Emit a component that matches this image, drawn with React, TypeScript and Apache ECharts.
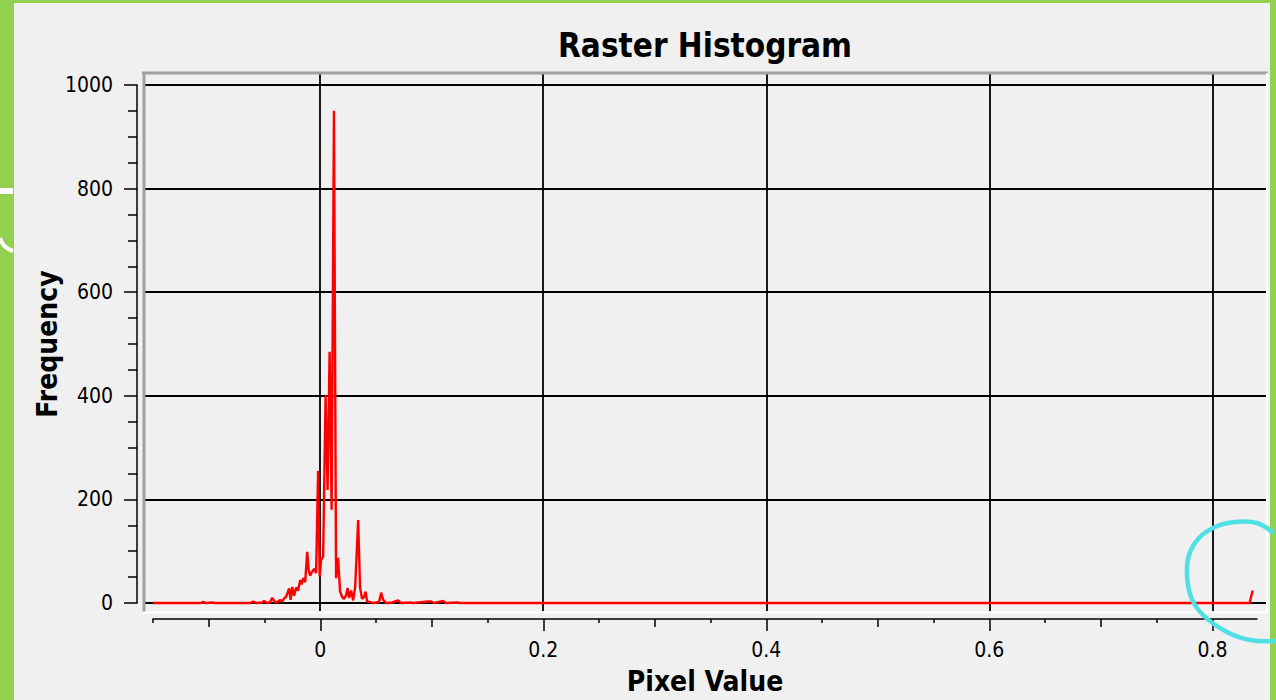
import React, { useEffect, useRef } from "react";
import * as echarts from "echarts";

// Histogram polyline: pixel value (bin position) and frequency
const pixelValues = [
  -0.150, -0.1075, -0.1048, -0.1022, -0.0968, -0.0941, -0.0627, -0.0600, -0.0573,
  -0.0520, -0.0502, -0.0475, -0.0448, -0.0430, -0.0403, -0.0376, -0.0358, -0.0341,
  -0.0323, -0.0305, -0.0278, -0.0264, -0.0251, -0.0233, -0.0215, -0.0197, -0.0179,
  -0.0166, -0.0152, -0.0134, -0.0116, -0.0103, -0.0090, -0.0072, -0.0054, -0.0036,
  -0.0018, -0.0004, 0.0009, 0.0027, 0.0049, 0.0067, 0.0085, 0.0103, 0.0124,
  0.0143, 0.0161, 0.0179, 0.0197, 0.0215, 0.0233, 0.0246, 0.0260, 0.0278,
  0.0296, 0.0314, 0.0341, 0.0358, 0.0376, 0.0394, 0.0408, 0.0421, 0.0448,
  0.0475, 0.0529, 0.0547, 0.0565, 0.0591, 0.0645, 0.0699, 0.0726, 0.0806,
  0.0833, 0.0968, 0.0995, 0.1022, 0.1102, 0.1129, 0.1228, 0.1254, 0.8333,
  0.8360,
];
const frequencies = [
  0, 0, 2, 0, 1, 0, 0, 3, 0,
  1, 4, 0, 2, 10, 1, 3, 6, 2,
  9, 12, 28, 6, 31, 14, 30, 24, 44,
  36, 48, 40, 99, 64, 53, 60, 66, 58,
  255, 51, 83, 90, 401, 218, 485, 180, 950,
  48, 87, 22, 12, 8, 15, 29, 10, 24,
  5, 30, 160, 30, 8, 12, 22, 3, 2,
  0, 2, 20, 6, 0, 1, 5, 0, 1,
  0, 3, 3, 0, 4, 0, 1, 0, 0,
  24,
];

// Axis ticks
const xMajorTicks = [0, 0.2, 0.4, 0.6, 0.8];
const xMidTicks = [-0.1, 0.1, 0.3, 0.5, 0.7];
const xMinorTicks = [-0.15, -0.05, 0.05, 0.15, 0.25, 0.35, 0.45, 0.55, 0.65, 0.75];
const yMajorTicks = [0, 200, 400, 600, 800, 1000];

const FONT = '"DejaVu Sans Condensed", "Liberation Sans", sans-serif';

export default function App() {
  const ref = useRef<HTMLDivElement>(null);

  useEffect(() => {
    if (!ref.current) return;
    const chart = echarts.init(ref.current, undefined, { renderer: "svg" });
    const data = pixelValues.map((x, i) => [x, frequencies[i]]);
    const black = { color: "#000", width: 1.5 };
    const grid = { color: "#000", width: 1.8 };
    const hidden = {
      type: "value",
      min: 0,
      max: 1,
      axisLine: { show: false },
      axisTick: { show: false },
      axisLabel: { show: false },
      splitLine: { show: false },
    };

    chart.setOption({
      animation: false,
      backgroundColor: "transparent",
      grid: [
        { left: 145, right: 10, top: 74, bottom: 89 },
        { left: 153, width: 1104, top: 618, height: 1 },
        { left: 137, width: 1, top: 85, height: 518 },
      ],
      xAxis: [
        {
          gridIndex: 0,
          type: "value",
          min: -0.157,
          max: 0.848,
          axisLine: { show: false },
          axisTick: { show: false, customValues: xMajorTicks },
          axisLabel: { show: false, customValues: xMajorTicks },
          splitLine: { show: true, lineStyle: grid },
        },
        {
          gridIndex: 1,
          type: "value",
          position: "bottom",
          min: -0.15,
          max: 0.84,
          axisLine: { show: true, lineStyle: black },
          axisTick: { show: true, length: 12, lineStyle: black, customValues: xMajorTicks },
          axisLabel: {
            show: true,
            customValues: xMajorTicks,
            margin: 20,
            fontSize: 21,
            fontFamily: FONT,
            color: "#000",
            formatter: (v: number) => String(v),
          },
          splitLine: { show: false },
          name: "Pixel Value",
          nameLocation: "middle",
          nameGap: 48,
          nameTextStyle: { fontSize: 28, fontWeight: "bold", fontFamily: FONT, color: "#000" },
        },
        {
          gridIndex: 1,
          type: "value",
          position: "bottom",
          min: -0.15,
          max: 0.84,
          axisLine: { show: false },
          axisTick: { show: true, length: 8, lineStyle: black, customValues: xMidTicks },
          axisLabel: { show: false },
          splitLine: { show: false },
        },
        {
          gridIndex: 1,
          type: "value",
          position: "bottom",
          min: -0.15,
          max: 0.84,
          axisLine: { show: false },
          axisTick: { show: true, length: 4, lineStyle: black, customValues: xMinorTicks },
          axisLabel: { show: false },
          splitLine: { show: false },
        },
        { ...hidden, gridIndex: 2 },
      ],
      yAxis: [
        {
          gridIndex: 0,
          type: "value",
          min: -15.4,
          max: 1021,
          axisLine: { show: false },
          axisTick: { show: false, customValues: yMajorTicks },
          axisLabel: { show: false, customValues: yMajorTicks },
          splitLine: { show: true, lineStyle: grid },
        },
        {
          gridIndex: 2,
          type: "value",
          position: "left",
          min: 0,
          max: 1000,
          interval: 200,
          axisLine: { show: true, lineStyle: black },
          axisTick: { show: true, length: 13, lineStyle: black },
          minorTick: { show: true, splitNumber: 4, length: 9, lineStyle: black },
          axisLabel: {
            show: true,
            margin: 24,
            fontSize: 21,
            fontFamily: FONT,
            color: "#000",
            formatter: (v: number) => String(v),
          },
          splitLine: { show: false },
          name: "Frequency",
          nameLocation: "middle",
          nameGap: 71,
          nameTextStyle: { fontSize: 28, fontWeight: "bold", fontFamily: FONT, color: "#000" },
        },
        { ...hidden, gridIndex: 1 },
      ],
      series: [
        {
          type: "line",
          xAxisIndex: 0,
          yAxisIndex: 0,
          data,
          showSymbol: false,
          symbol: "none",
          lineStyle: { color: "#ff0000", width: 2.4 },
          clip: true,
          z: 5,
        },
      ],
      graphic: [
        { type: "line", shape: { x1: 142, y1: 73, x2: 1268, y2: 73 }, style: { stroke: "#a0a0a0", lineWidth: 3 }, z: 1 },
        { type: "line", shape: { x1: 144, y1: 72, x2: 144, y2: 612 }, style: { stroke: "#a0a0a0", lineWidth: 3 }, z: 1 },
        { type: "line", shape: { x1: 143, y1: 612.5, x2: 1268, y2: 612.5 }, style: { stroke: "#ffffff", lineWidth: 2 }, z: 1 },
        { type: "line", shape: { x1: 1267, y1: 73, x2: 1267, y2: 613 }, style: { stroke: "#ffffff", lineWidth: 2 }, z: 1 },
        { type: "line", shape: { x1: 0, y1: 191, x2: 13, y2: 191 }, style: { stroke: "#ffffff", lineWidth: 6 }, z: 1 },
        {
          type: "bezierCurve",
          shape: { x1: 0, y1: 238, cpx1: 3, cpy1: 248, x2: 13, y2: 251 },
          style: { stroke: "#ffffff", lineWidth: 4, fill: "none" },
          z: 1,
        },
        {
          type: "text",
          x: 705,
          y: 45,
          style: {
            text: "Raster Histogram",
            font: `bold 33px ${FONT}`,
            fill: "#000",
            align: "center",
            verticalAlign: "middle",
          },
          z: 10,
        },
        {
          type: "polyline",
          shape: {
            points: [
              [1272, 532], [1257, 523], [1235, 522], [1215, 527], [1199, 538], [1189, 555],
              [1187, 575], [1191, 597], [1203, 615], [1227, 632], [1250, 640], [1276, 641],
            ],
            smooth: 0.4,
          },
          style: { stroke: "#4fe0e3", lineWidth: 4.5, fill: "none", lineCap: "round" },
          z: 100,
        },
      ],
    });

    return () => chart.dispose();
  }, []);

  return (
    <div style={{ position: "fixed", left: 0, top: 0, width: 1276, height: 700, background: "#92d050" }}>
      <div style={{ position: "absolute", left: 14, top: 3, width: 1256, height: 697, background: "#f0f0f0" }} />
      <div ref={ref} style={{ position: "absolute", left: 0, top: 0, width: 1276, height: 700 }} />
    </div>
  );
}
